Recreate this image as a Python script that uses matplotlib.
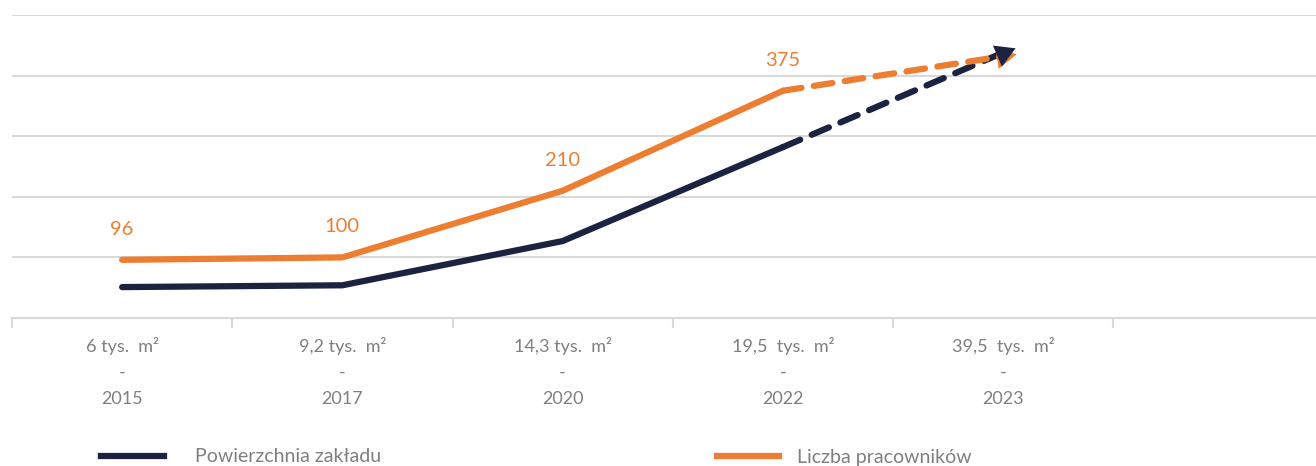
import numpy as np
import matplotlib
matplotlib.use("Agg")
import matplotlib.pyplot as plt
from matplotlib.lines import Line2D

categories = ["6 tys.  m²\n-\n2015", "9,2 tys.  m²\n-\n2017", "14,3 tys.  m²\n-\n2020",
              "19,5  tys.  m²\n-\n2022", "39,5  tys.  m²\n-\n2023"]
powierzchnia = [51, 54, 127, 282, 438]
pracownicy = [96, 100, 210, 375, 432]
labels_prac = ["96", "100", "210", "375"]

DARK = "#1b2340"
ORANGE = "#ed7d31"
GRID = "#d9d9d9"
TXT = "#7f7f7f"

plt.rcParams['font.family'] = ['Lato', 'DejaVu Sans']

fig = plt.figure(figsize=(13.16, 4.66), dpi=100)
ax = fig.add_axes([12/1316, 148/466, 1304/1316, 303/466])
ax.set_xlim(-0.5, 5.42)
ax.set_ylim(0, 500)

for s in ['top', 'right', 'left']:
    ax.spines[s].set_visible(False)
ax.spines['bottom'].set_color(GRID)
ax.spines['bottom'].set_linewidth(1.5)
ax.set_yticks([100, 200, 300, 400, 500])
ax.set_yticklabels([])
ax.tick_params(axis='y', length=0)
ax.yaxis.grid(True, color=GRID, linewidth=1.5)
ax.set_axisbelow(True)

x = np.arange(len(categories))
ax.set_xticks(np.arange(-0.5, 5.0, 1.0))
ax.set_xticklabels([])
ax.set_xticks(x, minor=True)
ax.set_xticklabels(categories, minor=True, fontsize=13, color=TXT, linespacing=1.75)
ax.tick_params(axis='x', which='major', length=7, color=GRID, width=1.5, direction='out')
ax.tick_params(axis='x', which='minor', length=0, pad=14)

lw = 4.5
for vals, col in [(powierzchnia, DARK), (pracownicy, ORANGE)]:
    ax.plot(x[:4], vals[:4], color=col, lw=lw, solid_capstyle='round', solid_joinstyle='round', zorder=3)
    ax.plot(x[3:5], vals[3:5], color=col, lw=lw, linestyle=(0, (3.0, 2.0)),
            dash_capstyle='round', zorder=3)

fig.canvas.draw()
def add_head(vals, col, z):
    p0 = ax.transData.transform((x[3], vals[3]))
    p1 = ax.transData.transform((x[4], vals[4]))
    ang = np.degrees(np.arctan2(p1[1]-p0[1], p1[0]-p0[0]))
    ax.plot([x[4]], [vals[4]], marker=(3, 0, ang - 90), markersize=19, color=col,
            markeredgewidth=0, zorder=z, clip_on=False)
add_head(pracownicy, ORANGE, 4)
add_head(powierzchnia, DARK, 5)

for xi, v, t in zip(x[:4], pracownicy[:4], labels_prac):
    ax.annotate(t, (xi, v), xytext=(0, 16), textcoords='offset points', ha='center',
                va='bottom', color=ORANGE, fontsize=14.5)

# legend
h1 = Line2D([], [], color=DARK, lw=4.5)
h2 = Line2D([], [], color=ORANGE, lw=4.5)
leg1 = fig.legend([h1], ["Powierzchnia zakładu"], loc='center left',
                  bbox_to_anchor=(83/1316, 1 - 457/466), frameon=False, fontsize=14,
                  handlelength=3.24, handletextpad=1.6, labelcolor=TXT)
leg2 = fig.legend([h2], ["Liczba pracowników"], loc='center left',
                  bbox_to_anchor=(699/1316, 1 - 457/466), frameon=False, fontsize=14,
                  handlelength=3.2, handletextpad=0.93, labelcolor=TXT)

fig.savefig("out.png", dpi=100)
